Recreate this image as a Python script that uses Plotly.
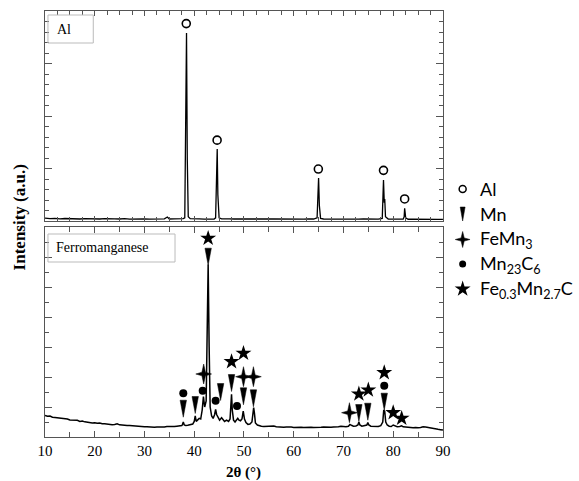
import plotly.graph_objects as go

# ---------------- data ----------------
# Upper panel: Al powder pattern (arbitrary units, axis 0-4000)
al_x = [10, 11, 12, 13, 14, 15, 16, 17, 18, 19, 20, 21, 22, 23, 24, 25, 26, 27, 28, 29,
        30, 31, 32, 33, 34, 34.6, 35, 36, 37, 37.8, 38.1, 38.3, 38.45, 38.6, 38.8, 39.2,
        40, 41, 42, 43, 44, 44.3, 44.5, 44.62, 44.75, 45.0, 45.5, 46, 47, 48, 49, 50,
        51, 52, 53, 54, 55, 56, 57, 58, 59, 60, 61, 62, 63, 64, 64.7, 64.9, 65.0, 65.15,
        65.4, 66, 67, 68, 69, 70, 71, 72, 73, 74, 75, 76, 77, 77.8, 77.95, 78.05, 78.2,
        78.3, 78.45, 78.8, 79, 80, 81, 82, 82.2, 82.3, 82.4, 82.5, 82.8, 83, 84, 85, 86,
        87, 88, 89, 90]
al_y = [55, 45, 50, 40, 48, 42, 50, 38, 46, 40, 45, 38, 44, 36, 42, 38, 45, 36, 42, 38,
        40, 36, 42, 38, 40, 75, 38, 42, 38, 45, 60, 1500, 3580, 1200, 80, 45,
        38, 42, 36, 40, 38, 60, 700, 1370, 500, 60, 40, 36, 42, 38, 42, 36,
        40, 38, 42, 36, 40, 38, 36, 42, 38, 36, 40, 36, 40, 38, 60, 500, 820, 300,
        50, 38, 36, 40, 36, 38, 34, 38, 34, 38, 35, 38, 34, 50, 500, 780, 350,
        420, 80, 40, 36, 34, 36, 35, 80, 240, 160, 60, 36, 33, 35, 32, 34,
        31, 33, 30, 32]
al_peak_x = [38.4, 44.6, 64.95, 78.05, 82.3]
al_mark_y = [3760, 1540, 990, 965, 420]

# Lower panel: ferromanganese pattern (arbitrary units, axis 0-7000)
fm_x = [10, 10.5, 11, 11.5, 12, 12.5, 13, 13.5, 14, 14.5, 15, 15.5, 16, 16.5, 17, 17.5,
        18, 18.5, 19, 19.5, 20, 20.5, 21, 21.5, 22, 22.5, 23, 23.5, 24, 24.5, 25, 25.5,
        26, 26.5, 27, 27.5, 28, 28.5, 29, 29.5, 30, 30.5, 31, 31.5, 32, 32.5, 33, 33.5,
        34, 34.5, 35, 35.5, 36, 36.5, 37, 37.5,
        37.6, 37.8, 38.0, 38.3, 38.7, 39.2, 39.7, 40.0, 40.2, 40.4, 40.7, 41.0, 41.3,
        41.6, 41.85, 42.1, 42.4, 42.6, 42.8, 43.0, 43.2, 43.5, 43.8, 44.1, 44.3, 44.5,
        44.8, 45.1, 45.5, 45.8, 46.1, 46.5, 46.9, 47.2, 47.35, 47.5, 47.65, 47.9, 48.2,
        48.5, 48.75, 49.0, 49.3, 49.6, 49.85, 50.1, 50.4, 50.8, 51.2, 51.6, 51.8, 51.95,
        52.1, 52.3, 52.7, 53.0,
        53.5, 54, 54.5, 55, 55.5, 56, 56.5, 57, 57.5, 58, 58.5, 59, 59.5, 60, 60.5, 61,
        61.5, 62, 62.5, 63, 63.5, 64, 64.5, 65, 65.5, 66, 66.5, 67, 67.5, 68, 68.5, 69,
        69.5, 70, 70.5,
        71.0, 71.3, 71.6, 72.0, 72.5, 72.9, 73.1, 73.3, 73.7, 74.2, 74.7, 74.9, 75.1,
        75.5, 76.0, 76.5, 77.0, 77.5, 77.9, 78.1, 78.3, 78.5, 78.8, 79.2, 79.6, 80.0,
        80.3, 80.8, 81.3, 81.7, 82.0, 82.5, 83,
        83.5, 84, 84.5, 85, 85.5, 86, 86.5, 87, 87.5, 88, 88.5, 89, 89.5, 90]
fm_y = [720, 690, 700, 660, 650, 640, 610, 625, 590, 600, 565, 560, 545, 555, 520, 530,
        505, 490, 500, 470, 475, 455, 465, 440, 445, 425, 430, 410, 420, 440, 405, 390,
        400, 380, 385, 375, 390, 365, 360, 350, 340, 345, 330, 340, 325, 335, 330, 345,
        335, 350, 345, 355, 350, 360, 365, 380,
        400, 500, 400, 380, 390, 400, 430, 520, 700, 520, 560, 620, 600,
        900, 1350, 1000, 1200, 3000, 5750, 3000, 1000, 700, 620, 750, 920, 750,
        620, 560, 640, 560, 520, 560, 520, 600, 900, 1420, 900, 560, 500,
        560, 620, 560, 540, 600, 860, 600, 480, 420, 430, 500, 800, 980,
        800, 470, 400, 380,
        360, 350, 355, 340, 345, 365, 345, 330, 340, 325, 335, 320, 330, 320, 330, 315,
        325, 320, 330, 315, 325, 320, 330, 315, 325, 330, 320, 330, 325, 335, 330, 340,
        360, 340, 345,
        360, 420, 390, 360, 370, 400, 500, 400, 360, 370, 400, 480, 400,
        360, 350, 360, 350, 380, 500, 900, 850, 500, 400, 360, 350, 400,
        370, 340, 350, 370, 340, 330, 320,
        325, 310, 320, 305, 320, 340, 330, 310, 300, 280, 270, 255, 245, 235]

# Phase markers in the lower panel (peak position, marker height)
mn_x = [37.8, 40.2, 42.8, 45.3, 47.5, 49.9, 51.9, 73.1, 74.9, 78.2]
mn_y = [943, 1067, 6010, 1500, 1800, 1357, 1290, 800, 843, 1177]
femn3_x = [41.9, 49.9, 51.9, 71.2]
femn3_y = [2100, 2010, 2010, 810]
mn23c6_x = [37.8, 41.7, 44.3, 48.6, 78.2]
mn23c6_y = [1457, 1545, 1211, 1033, 1711]
fmc_x = [42.8, 47.5, 49.9, 73.1, 75.0, 78.2, 80.0, 81.7]
fmc_y = [6623, 2510, 2790, 1433, 1567, 2143, 810, 623]

legend_labels = ["Al", "Mn", "FeMn<sub>3</sub>", "Mn<sub>23</sub>C<sub>6</sub>",
                 "Fe<sub>0.3</sub>Mn<sub>2.7</sub>C"]
panel_labels = ["Al", "Ferromanganese"]
x_ticks = [10, 20, 30, 40, 50, 60, 70, 80, 90]

# ---------------- layout geometry ----------------
W, H = 579, 481
ML, MR, MT, MB = 45, 0, 11, 44
PW, PH = W - ML - MR, H - MT - MB
X0, X1 = 10, 90
PLOT_R = 449            # right edge of the chart frame (px)
XD = (PLOT_R - ML) / PW
TOP_DOM = [(437 - 221) / PH, 1.0]
BOT_DOM = [0.0, (437 - 227) / PH]
TOP_MAX, BOT_MAX = 4000, 7000
XU = (X1 - X0) / (PLOT_R - ML)     # x data units per pixel
YU = BOT_MAX / 210                 # lower-panel y data units per pixel


def px_x(p):
    return (p - ML) / PW


def px_y(p):
    return (H - MB - p) / PH


def tri_path(xs, ys, w, h, sx, sy):
    """Narrow downward wedge around each (x, y) centre; w, h in px."""
    px, py = [], []
    for xc, yc in zip(xs, ys):
        px += [xc - w / 2 * sx, xc + w / 2 * sx, xc, xc - w / 2 * sx, None]
        py += [yc + h / 2 * sy, yc + h / 2 * sy, yc - h / 2 * sy, yc + h / 2 * sy, None]
    return px, py


def star4_path(xs, ys, hw, hh, inner, sx, sy):
    """Thin four-pointed star around each (x, y) centre; sizes in px."""
    rel = [(0, hh), (inner, inner), (hw, 0), (inner, -inner), (0, -hh),
           (-inner, -inner), (-hw, 0), (-inner, inner), (0, hh)]
    px, py = [], []
    for xc, yc in zip(xs, ys):
        px += [xc + a * sx for a, _ in rel] + [None]
        py += [yc + b * sy for _, b in rel] + [None]
    return px, py


frame = "#555555"
serif = "Liberation Serif, Times New Roman, serif"
sans = "Lato, Open Sans, sans-serif"

fig = go.Figure()

# upper spectrum
fig.add_trace(go.Scatter(x=al_x, y=al_y, mode="lines", xaxis="x", yaxis="y",
                         line=dict(color="black", width=1.3), showlegend=False))
fig.add_trace(go.Scatter(x=al_peak_x, y=al_mark_y, mode="markers", xaxis="x", yaxis="y",
                         marker=dict(symbol="circle-open", size=8, color="black",
                                     line=dict(width=1.6)), showlegend=False))

# lower spectrum
fig.add_trace(go.Scatter(x=fm_x, y=fm_y, mode="lines", xaxis="x2", yaxis="y2",
                         line=dict(color="black", width=1.5), showlegend=False))

# Mn: tall narrow downward wedges
tx, ty = tri_path(mn_x, mn_y, 6.5, 17, XU, YU)
fig.add_trace(go.Scatter(x=tx, y=ty, mode="lines", fill="toself", fillcolor="black",
                         line=dict(color="black", width=0.5), xaxis="x2", yaxis="y2",
                         showlegend=False))
# FeMn3: thin four-pointed stars
sx4, sy4 = star4_path(femn3_x, femn3_y, 8, 10, 1.8, XU, YU)
fig.add_trace(go.Scatter(x=sx4, y=sy4, mode="lines", fill="toself", fillcolor="black",
                         line=dict(color="black", width=0.5), xaxis="x2", yaxis="y2",
                         showlegend=False))
fig.add_trace(go.Scatter(x=mn23c6_x, y=mn23c6_y, mode="markers", xaxis="x2", yaxis="y2",
                         marker=dict(symbol="circle", size=8, color="black"),
                         showlegend=False))
fig.add_trace(go.Scatter(x=fmc_x, y=fmc_y, mode="markers", xaxis="x2", yaxis="y2",
                         marker=dict(symbol="star", size=12, color="black"),
                         showlegend=False))

# ---------------- hand-made legend (axis in pixel units) ----------------
LEG_D0 = XD + 0.005
leg_x_rng = [ML + LEG_D0 * PW, W - MR]
leg_mx = 469
leg_ty = [189, 214, 239.5, 264, 289]
fig.add_trace(go.Scatter(x=[leg_mx], y=[leg_ty[0]], mode="markers", xaxis="x3", yaxis="y3",
                         marker=dict(symbol="circle-open", size=7, color="black",
                                     line=dict(width=1.5)), showlegend=False))
lx, ly = tri_path([leg_mx], [leg_ty[1]], 5, 14, 1, -1)
fig.add_trace(go.Scatter(x=lx, y=ly, mode="lines", fill="toself", fillcolor="black",
                         line=dict(color="black", width=0.5), xaxis="x3", yaxis="y3",
                         showlegend=False))
lx, ly = star4_path([leg_mx], [leg_ty[2]], 7.5, 8, 1.6, 1, -1)
fig.add_trace(go.Scatter(x=lx, y=ly, mode="lines", fill="toself", fillcolor="black",
                         line=dict(color="black", width=0.5), xaxis="x3", yaxis="y3",
                         showlegend=False))
fig.add_trace(go.Scatter(x=[leg_mx], y=[leg_ty[3]], mode="markers", xaxis="x3", yaxis="y3",
                         marker=dict(symbol="circle", size=7, color="black"),
                         showlegend=False))
fig.add_trace(go.Scatter(x=[leg_mx], y=[leg_ty[4]], mode="markers", xaxis="x3", yaxis="y3",
                         marker=dict(symbol="star", size=12, color="black"),
                         showlegend=False))

annotations = []
for lab, yy in zip(legend_labels, leg_ty):
    annotations.append(dict(text=lab, xref="x3", yref="y3", x=485, y=yy, xanchor="left",
                            yanchor="middle", showarrow=False,
                            font=dict(family=sans, size=18, color="black")))

# panel label boxes
shapes = [
    dict(type="rect", xref="paper", yref="paper", x0=px_x(48), x1=px_x(94),
         y0=px_y(43), y1=px_y(15), line=dict(color="#bbbbbb", width=1)),
    dict(type="rect", xref="paper", yref="paper", x0=px_x(48), x1=px_x(177),
         y0=px_y(262), y1=px_y(234), line=dict(color="#bbbbbb", width=1)),
]
annotations.append(dict(text=panel_labels[0], xref="paper", yref="paper", x=px_x(55),
                        y=px_y(29), xanchor="left", yanchor="middle", showarrow=False,
                        font=dict(family=serif, size=14, color="black")))
annotations.append(dict(text=panel_labels[1], xref="paper", yref="paper", x=px_x(54),
                        y=px_y(248), xanchor="left", yanchor="middle", showarrow=False,
                        font=dict(family=serif, size=14, color="black")))

# axis titles
annotations.append(dict(text="<b>2θ (°)</b>", xref="paper", yref="paper", x=px_x(247),
                        y=px_y(472), xanchor="center", yanchor="middle", showarrow=False,
                        font=dict(family=serif, size=15, color="black")))
annotations.append(dict(text="<b>Intensity (a.u.)</b>", xref="paper", yref="paper",
                        x=px_x(19), y=px_y(217), xanchor="center", yanchor="middle",
                        textangle=-90, showarrow=False,
                        font=dict(family=serif, size=17, color="black")))

common_axis = dict(showline=True, linecolor=frame, linewidth=1.2, mirror="allticks",
                   ticks="inside", tickcolor=frame, tickwidth=1, showgrid=False,
                   zeroline=False)

fig.update_layout(
    width=W, height=H,
    margin=dict(l=ML, r=MR, t=MT, b=MB, pad=0),
    paper_bgcolor="white", plot_bgcolor="white",
    showlegend=False,
    xaxis=dict(domain=[0, XD], anchor="y", range=[X0, X1], dtick=10, ticklen=5,
               showticklabels=False, minor=dict(dtick=2.5, ticklen=4, ticks="inside",
                                                tickcolor=frame),
               **common_axis),
    yaxis=dict(domain=TOP_DOM, anchor="x", range=[0, TOP_MAX], dtick=1000, ticklen=7,
               showticklabels=False, minor=dict(dtick=200, ticklen=4, ticks="inside",
                                                tickcolor=frame),
               **common_axis),
    xaxis2=dict(domain=[0, XD], anchor="y2", range=[X0, X1], tickvals=x_ticks,
                ticktext=[str(v) for v in x_ticks], ticklen=6,
                tickfont=dict(family=serif, size=15, color="black"),
                minor=dict(dtick=5, ticklen=5, ticks="inside", tickcolor=frame),
                **common_axis),
    yaxis2=dict(domain=BOT_DOM, anchor="x2", range=[0, BOT_MAX], dtick=1000, ticklen=7,
                showticklabels=False, minor=dict(dtick=500, ticklen=4, ticks="inside",
                                                 tickcolor=frame),
                **common_axis),
    xaxis3=dict(domain=[LEG_D0, 1], anchor="y3", range=leg_x_rng, visible=False,
                fixedrange=True),
    yaxis3=dict(domain=[0, 1], anchor="x3", range=[H - MB, MT], visible=False,
                fixedrange=True),
    shapes=shapes,
    annotations=annotations,
)

fig.write_html("out.html")
